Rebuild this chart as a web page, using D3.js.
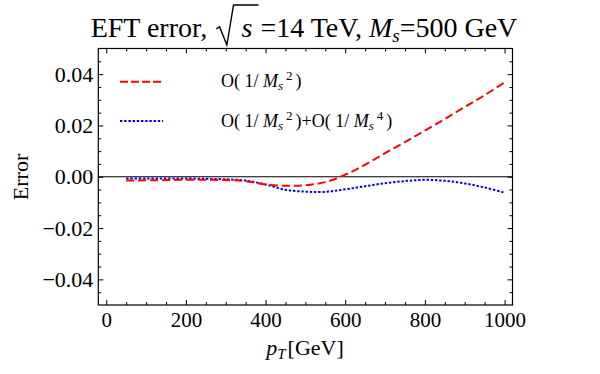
<!DOCTYPE html>
<html><head><meta charset="utf-8">
<script src="https://cdn.jsdelivr.net/npm/d3@7"></script>
<style>body{margin:0;background:#fff}svg{display:block}text{font-family:"Liberation Serif","Times New Roman",serif;fill:#000;white-space:pre}</style>
</head><body><svg id="c" width="600" height="374"></svg>
<script>
const pT = [50,100,150,200,250,300,350,400,450,500,550,600,650,700,750,800,850,900,950,1000];
const errM2 = [-0.0015,-0.0014,-0.0013,-0.0012,-0.0012,-0.0013,-0.0017,-0.0030,-0.0035,-0.0033,-0.0021,0.0008,0.0047,0.0092,0.0135,0.0180,0.0225,0.0272,0.0318,0.0368];
const errM4 = [-0.0007,-0.0007,-0.0007,-0.0007,-0.0008,-0.0010,-0.0015,-0.0030,-0.0051,-0.0058,-0.0059,-0.0049,-0.0037,-0.0025,-0.0017,-0.0012,-0.0016,-0.0026,-0.0042,-0.0062];
const xTicks = [0,200,400,600,800,1000];
const yTicks = [-0.04,-0.02,0,0.02,0.04];
const yTickLabels = ["\u22120.04","\u22120.02","0.00","0.02","0.04"];
const xMinor = d3.range(50,1001,50).filter(v=>v%200!==0);
const yMinor = d3.range(-45,46,5).map(v=>v/1000).filter(v=>Math.round(v*1000)%20!==0);

const svg = d3.select("#c");
const L=98.3,R=512.5,T=48.5,B=305;
const x = d3.scaleLinear().domain([-20,1020]).range([L,R]);
const y = d3.scaleLinear().domain([-0.05,0.05]).range([B,T]);

function ax(gen, tr, major, size, fmt, pad, fs){
  const g = svg.append("g").attr("transform",tr)
    .call(gen.tickValues(major).tickSize(size).tickPadding(pad).tickFormat(fmt));
  g.select(".domain").remove();
  g.selectAll("line").attr("stroke","#000").attr("stroke-width",1);
  g.selectAll("text").style("font-family",'"Liberation Serif",serif').style("font-size",fs+"px").attr("fill","#000");
  return g;
}
ax(d3.axisBottom(x),`translate(0,${B})`,xTicks,-5,d=>d,7,21);
ax(d3.axisBottom(x),`translate(0,${B})`,xMinor,-3,()=>"",0,21);
ax(d3.axisTop(x),`translate(0,${T})`,xTicks,-5,()=>"",0,21);
ax(d3.axisTop(x),`translate(0,${T})`,xMinor,-3,()=>"",0,21);
ax(d3.axisLeft(y),`translate(${L},0)`,yTicks,-5,(d,i)=>yTickLabels[i],5,22);
ax(d3.axisLeft(y),`translate(${L},0)`,yMinor,-3,()=>"",0,22);
ax(d3.axisRight(y),`translate(${R},0)`,yTicks,-5,()=>"",0,22);
ax(d3.axisRight(y),`translate(${R},0)`,yMinor,-3,()=>"",0,22);

svg.append("rect").attr("x",L).attr("y",T).attr("width",R-L).attr("height",B-T)
  .attr("fill","none").attr("stroke","#000").attr("stroke-width",1.2);

svg.append("line").attr("x1",L).attr("x2",R).attr("y1",y(0)).attr("y2",y(0)).attr("stroke","#000").attr("stroke-width",1);

const line = d3.line().x((d,i)=>x(pT[i])).y(d=>y(d)).curve(d3.curveCatmullRom);
svg.append("path").attr("d",line(errM4)).attr("fill","none").attr("stroke","#0000ff").attr("stroke-width",2).attr("stroke-dasharray","2.4,1.8");
svg.append("path").attr("d",line(errM2)).attr("fill","none").attr("stroke","#ff0000").attr("stroke-width",2).attr("stroke-dasharray","8,4");

function rich(g, pieces, x0, y0, fs){
  let cx = x0;
  pieces.forEach(p=>{
    if(p.gap){cx+=p.gap;return;}
    const t = g.append("text").attr("x",cx).attr("y",y0+(p.dy||0)).text(p.t)
      .style("font-size",(p.s||fs)+"px");
    if(p.i) t.style("font-style","italic");
    const w = t.node().getComputedTextLength();
    if(!p.nx) cx += w;
  });
  return cx - x0;
}

// legend
svg.append("line").attr("x1",120).attr("x2",163).attr("y1",81.7).attr("y2",81.7).attr("stroke","#ff0000").attr("stroke-width",2).attr("stroke-dasharray","8,3");
svg.append("line").attr("x1",120).attr("x2",163).attr("y1",121).attr("y2",121).attr("stroke","#0000ff").attr("stroke-width",2).attr("stroke-dasharray","2.4,1.8");
const lfs=18;
function ms(n){return [{t:"O( 1/ "},{t:"M",i:true},{t:"s",i:true,s:13,dy:3,nx:true},{gap:8},{t:n,s:13,dy:-7},{gap:3},{t:")"}];}
rich(svg.append("g"), ms("2"), 221, 86.7, lfs);
rich(svg.append("g"), ms("2").concat([{t:"+"}]).concat(ms("4")), 221, 126.7, lfs);

// title
const tfs=28, tb=36.7;
function titleLayout(g, x0){
  let cx = x0 + rich(g,[{t:"EFT error, "}],x0,tb,tfs);
  const r0 = cx + 2;
  const rx = [0,3.3,10.6,17.3], ry=[-7.7,-10,8.3,-31.7];
  cx = r0 + 17.3 + 8;
  const sw = rich(g,[{t:"s",i:true}],cx,tb,tfs);
  cx += sw + 6;
  g.append("path").attr("d",`M${r0+rx[0]},${tb+ry[0]}L${r0+rx[1]},${tb+ry[1]}L${r0+rx[2]},${tb+ry[2]}L${r0+rx[3]},${tb+ry[3]}L${cx},${tb+ry[3]}`)
    .attr("fill","none").attr("stroke","#000").attr("stroke-width",1.4);
  cx += 2;
  cx += rich(g,[{t:"=14 TeV, "},{t:"M",i:true},{t:"s",i:true,s:19,dy:5},{t:"=500 GeV"}],cx,tb,tfs);
  return cx - x0;
}
const tmp = svg.append("g").attr("opacity",0);
const tw = titleLayout(tmp,0);
tmp.remove();
titleLayout(svg.append("g"), 304 - tw/2);

// axis titles
svg.append("text").attr("transform","translate(28.3,177) rotate(-90)").attr("text-anchor","middle").style("font-size","22px").text("Error");
const xlab = [{t:"p",i:true},{t:"T",i:true,s:15,dy:4},{gap:2},{t:"[GeV]"}];
const tmp2 = svg.append("g").attr("opacity",0);
const xw = rich(tmp2,xlab,0,0,22);
tmp2.remove();
rich(svg.append("g"),xlab,305-xw/2,355,22);
</script></body></html>
